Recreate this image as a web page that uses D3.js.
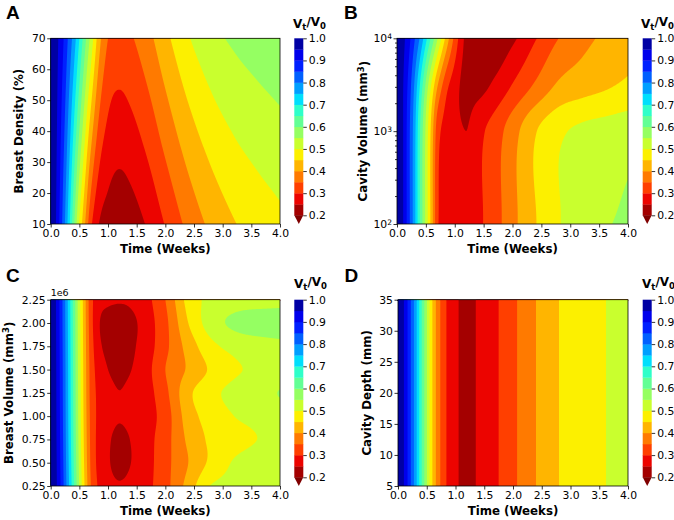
<!DOCTYPE html>
<html>
<head>
<meta charset="utf-8">
<style>
  body { margin: 0; background: #fff; }
  text { font-family: "DejaVu Sans", sans-serif; fill: #000; }
  .tick text { font-size: 10.8px; }
  .tick line { stroke: #000; stroke-width: 0.8; }
  .label { font-weight: bold; font-size: 11.8px; }
  .letter { font-family: "Liberation Sans", Arial, sans-serif; font-weight: bold; font-size: 19px; }
  .cbtitle { font-weight: bold; font-size: 12px; }
</style>
</head>
<body>
<svg width="674" height="520"></svg>
<script src="https://cdn.jsdelivr.net/npm/d3@7"></script>
<script>

// time samples (weeks) shared by every panel
var times = [0, 0.1, 0.2, 0.3, 0.4, 0.5, 0.6, 0.7, 0.85, 1.0, 1.2, 1.4, 1.7, 2.0, 2.4, 2.8, 3.2, 3.6, 4.0];

// contour levels of Vt/V0 and tick labels
var levels = [0.2, 0.25, 0.3, 0.35, 0.4, 0.45, 0.5, 0.55, 0.6, 0.65, 0.7, 0.75, 0.8, 0.85, 0.9, 0.95, 1.0];
var cbTicks = [0.2, 0.3, 0.4, 0.5, 0.6, 0.7, 0.8, 0.9, 1.0];
var timeTicks = [0, 0.5, 1, 1.5, 2, 2.5, 3, 3.5, 4];

// A: breast density (%)
var densityRows = [10, 40, 70];
var densityRatio = [
  [1.0, 0.945, 0.85, 0.741, 0.614, 0.495, 0.40, 0.312, 0.247, 0.228, 0.215, 0.225, 0.257, 0.303, 0.364, 0.412, 0.447, 0.47, 0.488],
  [1.0, 0.955, 0.883, 0.795, 0.697, 0.598, 0.507, 0.423, 0.332, 0.289, 0.274, 0.285, 0.321, 0.37, 0.43, 0.474, 0.503, 0.522, 0.537],
  [1.0, 0.964, 0.916, 0.849, 0.78, 0.70, 0.614, 0.534, 0.416, 0.35, 0.332, 0.345, 0.385, 0.436, 0.496, 0.535, 0.558, 0.573, 0.585]
];
var densityTicks = [10, 20, 30, 40, 50, 60, 70];

// B: cavity volume (mm^3), log axis
var cavityVolRows = [100, 1000, 3000, 10000];
var cavityVolRatio = [
  [1.0, 0.955, 0.87, 0.77, 0.645, 0.535, 0.425, 0.31, 0.278, 0.268, 0.262, 0.288, 0.33, 0.385, 0.448, 0.497, 0.525, 0.545, 0.56],
  [1.0, 0.955, 0.87, 0.773, 0.65, 0.54, 0.43, 0.325, 0.283, 0.262, 0.25, 0.283, 0.325, 0.378, 0.447, 0.49, 0.51, 0.52, 0.53],
  [1.0, 0.955, 0.885, 0.796, 0.693, 0.587, 0.487, 0.40, 0.315, 0.272, 0.232, 0.235, 0.262, 0.305, 0.36, 0.41, 0.43, 0.445, 0.46],
  [1.0, 0.966, 0.92, 0.857, 0.793, 0.715, 0.635, 0.554, 0.436, 0.335, 0.235, 0.215, 0.212, 0.24, 0.297, 0.35, 0.383, 0.41, 0.43]
];
var cavityVolTicks = [100, 1000, 10000];
var cavityVolMinor = [200, 300, 400, 500, 600, 700, 800, 900, 2000, 3000, 4000, 5000, 6000, 7000, 8000, 9000];

// C: breast volume (mm^3)
var breastVolRows = [250000, 500000, 750000, 1000000, 1250000, 1500000, 1750000, 2000000, 2250000];
var breastVolRatio = [
  [1.0, 0.955, 0.875, 0.772, 0.66, 0.545, 0.44, 0.35, 0.29, 0.268, 0.256, 0.265, 0.29, 0.333, 0.42, 0.503, 0.515, 0.525, 0.535],
  [1.0, 0.953, 0.87, 0.765, 0.652, 0.537, 0.432, 0.343, 0.282, 0.256, 0.232, 0.25, 0.285, 0.333, 0.40, 0.462, 0.505, 0.525, 0.54],
  [1.0, 0.951, 0.866, 0.76, 0.646, 0.531, 0.427, 0.34, 0.282, 0.258, 0.235, 0.252, 0.285, 0.33, 0.41, 0.46, 0.48, 0.50, 0.515],
  [1.0, 0.95, 0.863, 0.757, 0.642, 0.527, 0.423, 0.338, 0.286, 0.27, 0.255, 0.265, 0.282, 0.325, 0.425, 0.471, 0.50, 0.515, 0.53],
  [1.0, 0.949, 0.861, 0.755, 0.64, 0.525, 0.42, 0.335, 0.285, 0.265, 0.251, 0.262, 0.285, 0.337, 0.437, 0.485, 0.515, 0.535, 0.552],
  [1.0, 0.948, 0.86, 0.754, 0.638, 0.523, 0.418, 0.333, 0.275, 0.25, 0.238, 0.249, 0.288, 0.35, 0.407, 0.458, 0.492, 0.51, 0.525],
  [1.0, 0.947, 0.858, 0.752, 0.636, 0.52, 0.415, 0.328, 0.26, 0.238, 0.222, 0.24, 0.28, 0.337, 0.42, 0.486, 0.515, 0.53, 0.54],
  [1.0, 0.946, 0.856, 0.75, 0.634, 0.518, 0.412, 0.322, 0.252, 0.228, 0.215, 0.235, 0.28, 0.337, 0.45, 0.525, 0.56, 0.57, 0.57],
  [1.0, 0.945, 0.855, 0.748, 0.632, 0.516, 0.41, 0.32, 0.27, 0.262, 0.258, 0.262, 0.29, 0.35, 0.469, 0.512, 0.524, 0.53, 0.535]
];
var breastVolTicks = [250000, 500000, 750000, 1000000, 1250000, 1500000, 1750000, 2000000, 2250000];

// D: cavity depth (mm) - no dependence on depth
var depthRows = [5, 35];
var depthRatio = [
  [1.0, 0.952, 0.87, 0.777, 0.664, 0.554, 0.448, 0.371, 0.297, 0.263, 0.224, 0.259, 0.293, 0.339, 0.40, 0.45, 0.474, 0.499, 0.52],
  [1.0, 0.952, 0.87, 0.777, 0.664, 0.554, 0.448, 0.371, 0.297, 0.263, 0.224, 0.259, 0.293, 0.339, 0.40, 0.45, 0.474, 0.499, 0.52]
];
var depthTicks = [5, 10, 15, 20, 25, 30, 35];

var svg = d3.select("svg");

// jet colormap, used reversed
var jetR = d3.scaleLinear().domain([0, 0.35, 0.66, 0.89, 1]).range([0, 0, 1, 1, 0.5]).clamp(true);
var jetG = d3.scaleLinear().domain([0, 0.125, 0.375, 0.64, 0.91, 1]).range([0, 0, 1, 1, 0, 0]).clamp(true);
var jetB = d3.scaleLinear().domain([0, 0.11, 0.34, 0.65, 1]).range([0.5, 1, 1, 0, 0]).clamp(true);
function jet(u) {
  return d3.rgb(255 * jetR(u), 255 * jetG(u), 255 * jetB(u)).formatHex();
}
var norm = d3.scaleLinear().domain([0.2, 1.0]).range([1, 0]);
var bandColors = levels.slice(0, -1).map(function (l, k) {
  return jet(norm((l + levels[k + 1]) / 2));
});
var underColor = jet(1);

// cubic Hermite through the samples; monotone (Fritsch-Carlson) or plain Catmull-Rom
function hermite(xs, ys, mono) {
  var n = xs.length, d = [], m = [];
  for (var i = 0; i < n - 1; i++) d[i] = (ys[i + 1] - ys[i]) / (xs[i + 1] - xs[i]);
  m[0] = d[0]; m[n - 1] = d[n - 2];
  for (i = 1; i < n - 1; i++) {
    m[i] = mono ? (d[i - 1] * d[i] <= 0 ? 0 : (d[i - 1] + d[i]) / 2)
      : (ys[i + 1] - ys[i - 1]) / (xs[i + 1] - xs[i - 1]);
  }
  if (mono) {
    for (i = 0; i < n - 1; i++) {
      if (d[i] === 0) { m[i] = 0; m[i + 1] = 0; continue; }
      var a = m[i] / d[i], b = m[i + 1] / d[i], s = a * a + b * b;
      if (s > 9) { var tt = 3 / Math.sqrt(s); m[i] = tt * a * d[i]; m[i + 1] = tt * b * d[i]; }
    }
  }
  return function (x) {
    var k = Math.max(0, Math.min(n - 2, d3.bisectRight(xs, x) - 1));
    var h = xs[k + 1] - xs[k], t = (x - xs[k]) / h, t2 = t * t, t3 = t2 * t;
    return (2 * t3 - 3 * t2 + 1) * ys[k] + (t3 - 2 * t2 + t) * h * m[k] +
      (-2 * t3 + 3 * t2) * ys[k + 1] + (t3 - t2) * h * m[k + 1];
  };
}

var panels = [
  { letter: "A", lx: 6, ly: 18.5, x0: 50.7, x1: 280, y0: 38.3, y1: 224, cbx: 294.3, cbb: 215.3,
    rows: densityRows, values: densityRatio, domain: [10, 70], ticks: densityTicks, fmt: d3.format("d"),
    ylabel: ["Breast Density (%)"], ylx: 23, tx: 293, ty: 27.5 },
  { letter: "B", lx: 344, ly: 18.5, x0: 397, x1: 628, y0: 38.3, y1: 224, cbx: 642.7, cbb: 215.3, log: true,
    rows: cavityVolRows, values: cavityVolRatio, domain: [100, 10000], ticks: cavityVolTicks,
    ylabel: ["Cavity Volume (mm", "3", ")"], ylx: 367.3, tx: 641, ty: 27.5 },
  { letter: "C", lx: 6, ly: 282, x0: 50.7, x1: 280, y0: 299.7, y1: 486, cbx: 294.3, cbb: 477.3,
    rows: breastVolRows, values: breastVolRatio, domain: [250000, 2250000], ticks: breastVolTicks,
    fmt: function (v) { return (v / 1e6).toFixed(2); }, offset: "1e6",
    ylabel: ["Breast Volume (mm", "3", ")"], ylx: 12.6, tx: 294, ty: 287.5 },
  { letter: "D", lx: 344.5, ly: 282, x0: 398, x1: 628, y0: 299.7, y1: 486, cbx: 642.7, cbb: 477.3,
    rows: depthRows, values: depthRatio, domain: [5, 35], ticks: depthTicks, fmt: d3.format("d"),
    ylabel: ["Cavity Depth (mm)"], ylx: 371.3, tx: 642, ty: 287.5 }
];

panels.forEach(function (p) {
  var x = d3.scaleLinear().domain([0, 4]).range([p.x0, p.x1]);
  var y = (p.log ? d3.scaleLog() : d3.scaleLinear()).domain(p.domain).range([p.y1, p.y0]);

  // sample the field on a pixel grid
  var nx = Math.round(p.x1 - p.x0), ny = Math.round(p.y1 - p.y0);
  var sx = (p.x1 - p.x0) / nx, sy = (p.y1 - p.y0) / ny;
  var rowFns = p.values.map(function (v) { return hermite(times, v, true); });
  var rowPos = p.rows.map(function (r) { return -y(r); });
  var grid = new Array(nx * ny);
  for (var i = 0; i < nx; i++) {
    var t = x.invert(p.x0 + (i + 0.5) * sx);
    var col = rowFns.map(function (f) { return f(t); });
    var fy = hermite(rowPos, col, false);
    for (var j = 0; j < ny; j++) {
      grid[j * nx + i] = Math.min(1, fy(-(p.y0 + (j + 0.5) * sy)));
    }
  }
  var contours = d3.contours().size([nx, ny]).thresholds(levels.slice(0, -1))(grid);

  var plot = svg.append("g")
    .attr("transform", "translate(" + p.x0 + "," + p.y0 + ") scale(" + sx + "," + sy + ")");
  plot.append("rect").attr("width", nx).attr("height", ny).attr("fill", underColor);
  plot.selectAll("path")
    .data(contours)
    .enter().append("path")
    .attr("d", d3.geoPath())
    .attr("fill", function (d, k) { return bandColors[k]; });

  // frame
  svg.append("rect")
    .attr("x", p.x0).attr("y", p.y0)
    .attr("width", p.x1 - p.x0).attr("height", p.y1 - p.y0)
    .attr("fill", "none").attr("stroke", "#000").attr("stroke-width", 0.8);

  // x axis
  var xa = svg.append("g")
    .attr("transform", "translate(0," + p.y1 + ")")
    .call(d3.axisBottom(x).tickValues(timeTicks).tickFormat(d3.format(".1f")).tickSize(3.5).tickPadding(2));
  xa.select(".domain").remove();

  svg.append("text").attr("class", "label")
    .attr("x", (p.x0 + p.x1) / 2).attr("y", p.y1 + 29)
    .attr("text-anchor", "middle").text("Time (Weeks)");

  // y axis
  var ya;
  if (p.log) {
    ya = svg.append("g")
      .attr("transform", "translate(" + p.x0 + ",0)")
      .call(d3.axisLeft(y).tickValues(p.ticks).tickFormat("").tickSize(3.5).tickPadding(1.5));
    ya.selectAll(".tick text").each(function (d) {
      var el = d3.select(this);
      el.append("tspan").text("10");
      el.append("tspan").attr("dy", "-0.45em").attr("font-size", "7.5px").text(Math.round(Math.log10(d)));
    });
    var mi = svg.append("g")
      .attr("transform", "translate(" + p.x0 + ",0)")
      .call(d3.axisLeft(y).tickValues(cavityVolMinor).tickFormat("").tickSize(2));
    mi.select(".domain").remove();
    mi.selectAll(".tick line").attr("stroke-width", 0.6);
  } else {
    ya = svg.append("g")
      .attr("transform", "translate(" + p.x0 + ",0)")
      .call(d3.axisLeft(y).tickValues(p.ticks).tickFormat(p.fmt).tickSize(3.5).tickPadding(1.5));
  }
  ya.select(".domain").remove();

  if (p.offset) {
    svg.append("text").attr("x", p.x0).attr("y", p.y0 - 3.5)
      .attr("font-size", "9.5px").text(p.offset);
  }

  var yl = svg.append("text").attr("class", "label")
    .attr("transform", "translate(" + p.ylx + "," + (p.y0 + p.y1) / 2 + ") rotate(-90)")
    .attr("text-anchor", "middle");
  yl.append("tspan").text(p.ylabel[0]);
  if (p.ylabel.length > 1) {
    yl.append("tspan").attr("dy", "-0.4em").attr("font-size", "8.5px").text(p.ylabel[1]);
    yl.append("tspan").attr("dy", "0.4em").text(p.ylabel[2]);
  }

  // panel letter
  svg.append("text").attr("class", "letter").attr("x", p.lx).attr("y", p.ly).text(p.letter);

  // colorbar
  var cbw = 9;
  var cb = d3.scaleLinear().domain([0.2, 1.0]).range([p.cbb, p.y0]);
  svg.append("g").selectAll("rect")
    .data(bandColors)
    .enter().append("rect")
    .attr("x", p.cbx).attr("width", cbw)
    .attr("y", function (c, k) { return cb(levels[k + 1]); })
    .attr("height", function (c, k) { return cb(levels[k]) - cb(levels[k + 1]) + 0.3; })
    .attr("fill", function (c) { return c; });
  svg.append("path")
    .attr("d", "M" + p.cbx + "," + p.cbb + "L" + (p.cbx + cbw) + "," + p.cbb + "L" + (p.cbx + cbw / 2) + "," + p.y1 + "Z")
    .attr("fill", underColor);
  var ca = svg.append("g")
    .attr("transform", "translate(" + (p.cbx + cbw) + ",0)")
    .call(d3.axisRight(cb).tickValues(cbTicks).tickFormat(d3.format(".1f")).tickSize(3.5).tickPadding(2));
  ca.select(".domain").remove();

  var ct = svg.append("text").attr("class", "cbtitle").attr("x", p.tx).attr("y", p.ty);
  ct.append("tspan").text("V");
  ct.append("tspan").attr("dy", "0.3em").attr("font-size", "8.5px").text("t");
  ct.append("tspan").attr("dy", "-0.3em").text("/V");
  ct.append("tspan").attr("dy", "0.3em").attr("font-size", "8.5px").text("0");
});

</script>
</body>
</html>
